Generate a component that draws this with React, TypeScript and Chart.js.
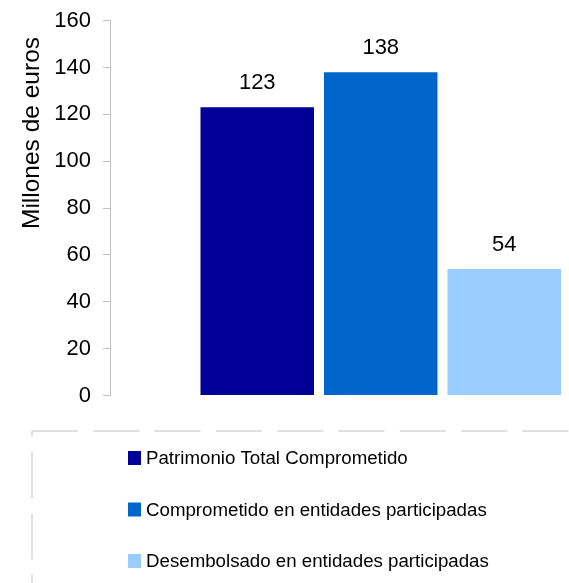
import React, { useEffect, useRef } from "react";
import { Chart, registerables } from "chart.js";

Chart.register(...registerables);

const seriesNames = [
  "Patrimonio Total Comprometido",
  "Comprometido en entidades participadas",
  "Desembolsado en entidades participadas",
];
const seriesValues = [123, 138, 54];
const seriesPositions = [1, 2, 3];
const seriesColors = ["#000099", "#0066CC", "#99CCFF"];
const yTitle = "Millones de euros";
const yMin = 0;
const yMax = 160;
const yStep = 20;

const FONT = "'Liberation Sans', Arial, sans-serif";

const overlayPlugin = {
  id: "overlay",
  afterDraw(chart: any) {
    const ctx = chart.ctx;
    ctx.save();
    // y-axis title
    ctx.save();
    ctx.translate(32, 133);
    ctx.rotate(-Math.PI / 2);
    ctx.font = `24.5px ${FONT}`;
    ctx.fillStyle = "#000";
    ctx.textAlign = "center";
    ctx.textBaseline = "middle";
    ctx.fillText(yTitle, 0, 0);
    ctx.restore();

    // data labels
    ctx.font = `22px ${FONT}`;
    ctx.fillStyle = "#000";
    ctx.textAlign = "center";
    ctx.textBaseline = "middle";
    chart.data.datasets.forEach((ds: any, i: number) => {
      const meta = chart.getDatasetMeta(i);
      meta.data.forEach((bar: any, j: number) => {
        const v = ds.data[j].y;
        ctx.fillText(String(v), bar.x, bar.y - 24);
      });
    });

    // legend box (dashed)
    ctx.strokeStyle = "#d6d6d6";
    ctx.lineWidth = 1.5;
    ctx.setLineDash([46, 15.3]);
    ctx.lineDashOffset = 0;
    ctx.beginPath();
    ctx.moveTo(32, 431);
    ctx.lineTo(chart.width, 431);
    ctx.stroke();
    ctx.lineDashOffset = 40.3;
    ctx.beginPath();
    ctx.moveTo(32, 431);
    ctx.lineTo(32, chart.height);
    ctx.stroke();
    ctx.setLineDash([]);

    // legend items
    const rowY = [458, 509.5, 561];
    ctx.font = `18.7px ${FONT}`;
    ctx.textAlign = "left";
    ctx.textBaseline = "middle";
    chart.data.datasets.forEach((ds: any, i: number) => {
      const y = rowY[i];
      ctx.fillStyle = ds.backgroundColor;
      ctx.fillRect(128, y - 7, 13, 14);
      ctx.fillStyle = "#000";
      ctx.fillText(ds.label, 146, y + 1);
    });
    ctx.restore();
  },
};

export default function App() {
  const ref = useRef<HTMLCanvasElement>(null);
  useEffect(() => {
    if (!ref.current) return;
    const chart = new Chart(ref.current, {
      type: "bar",
      data: {
        datasets: seriesNames.map((name, i) => ({
          label: name,
          data: [{ x: seriesPositions[i], y: seriesValues[i] }],
          backgroundColor: seriesColors[i],
          borderWidth: 0,
          grouped: false,
          categoryPercentage: 1,
          barPercentage: 0.919,
        })),
      },
      options: {
        animation: false,
        responsive: true,
        maintainAspectRatio: false,
        layout: { padding: { left: 0, top: 20.7, right: 0, bottom: 187.5 } },
        plugins: { legend: { display: false }, tooltip: { enabled: false } },
        scales: {
          x: {
            type: "linear",
            display: false,
            offset: false,
            min: -0.1923,
            max: 3.5243,
            ticks: { stepSize: 1, includeBounds: false },
          },
          y: {
            min: yMin,
            max: yMax,
            afterFit(scale: any) {
              scale.width = 110;
              scale.paddingTop = 0;
              scale.paddingBottom = 0;
            },
            ticks: {
              stepSize: yStep,
              color: "#000",
              padding: 12,
              font: { family: FONT, size: 22 },
            },
            grid: {
              drawOnChartArea: false,
              drawTicks: true,
              tickLength: 7,
              color: "#bfbfbf",
            },
            border: { display: true, color: "#bfbfbf" },
          },
        },
      },
      plugins: [overlayPlugin],
    });
    return () => chart.destroy();
  }, []);
  return (
    <div style={{ position: "fixed", left: 0, top: 0, width: 569, height: 583, background: "#fff" }}>
      <canvas ref={ref} />
    </div>
  );
}
